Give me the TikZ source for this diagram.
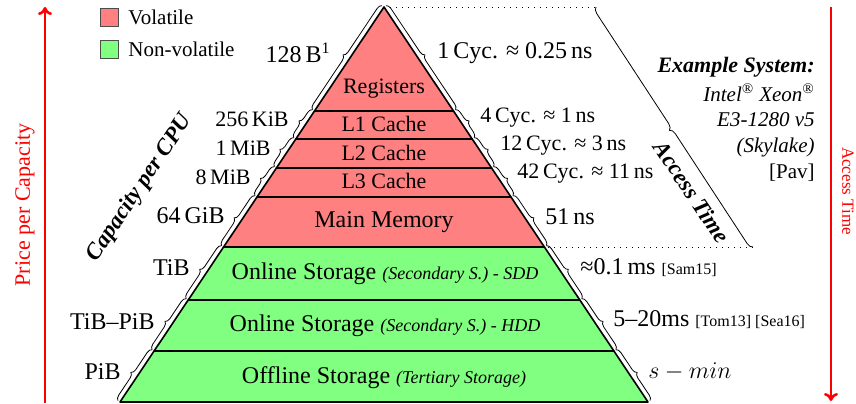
\documentclass[tikz,border=0pt]{standalone}
\usepackage{fontspec}
\setmainfont{Liberation Serif}
\usetikzlibrary{decorations.pathreplacing,arrows.meta}

\definecolor{volred}{HTML}{FF8080}
\definecolor{nvgreen}{HTML}{80FF80}
\newcommand{\reftag}[1]{{\fontsize{8}{9}\selectfont #1}}
\newcommand{\subnote}[1]{{\fontsize{9}{10}\selectfont\itshape #1}}

\begin{document}
\begin{tikzpicture}[x=0.5pt,y=-0.5pt,
  layer/.style={draw=black, line width=0.8pt, line join=round},
  volatile/.style={layer, fill=volred},
  nonvolatile/.style={layer, fill=nvgreen},
  lvltext/.style={inner sep=0pt, font=\fontsize{12}{14}\selectfont},
  cachetext/.style={inner sep=0pt, font=\fontsize{11}{13}\selectfont},
  sidebrace/.style={decorate, decoration={brace, amplitude=2.5pt, raise=1.2pt}, line width=0.4pt},
  bigbrace/.style={decorate, decoration={brace, mirror, amplitude=3pt}, line width=0.4pt},
  dotline/.style={line width=0.4pt, dash pattern=on 0.4pt off 2.6pt},
  bigtag/.style={inner sep=0pt, font=\fontsize{12}{14}\selectfont},
  smalltag/.style={inner sep=0pt, font=\fontsize{11}{13}\selectfont},
  axislabel/.style={inner sep=0pt, font=\fontsize{11.5}{13}\selectfont\bfseries\itshape},
  sysline/.style={inner sep=0pt, anchor=east, font=\fontsize{10.5}{12}\selectfont\itshape},
  redarrow/.style={red, line width=1.3pt, -{To[length=4pt,width=7pt]}},
  legbox/.style={draw=black!70, line width=0.5pt, minimum width=9pt, minimum height=9pt, inner sep=0pt},
  legtext/.style={inner sep=0pt, anchor=west, font=\fontsize{10.5}{12}\selectfont}
]
\useasboundingbox (0,0) rectangle (856,403);

% corners of the pyramid layers (left / right edge)
\coordinate (A)  at (384,7);
\coordinate (L1) at (314.5,111)  ; \coordinate (R1) at (453.5,111);
\coordinate (L2) at (295.8,139)  ; \coordinate (R2) at (472.2,139);
\coordinate (L3) at (276.4,168)  ; \coordinate (R3) at (491.6,168);
\coordinate (L4) at (257.0,197)  ; \coordinate (R4) at (511.0,197);
\coordinate (L5) at (223.6,247)  ; \coordinate (R5) at (544.4,247);
\coordinate (L6) at (188.2,300)  ; \coordinate (R6) at (579.8,300);
\coordinate (L7) at (154.1,351)  ; \coordinate (R7) at (613.9,351);
\coordinate (L8) at (120.0,402)  ; \coordinate (R8) at (648.0,402);

% layers
\path[volatile]    (A)  -- (R1) -- (L1) -- cycle;
\path[volatile]    (L1) -- (R1) -- (R2) -- (L2) -- cycle;
\path[volatile]    (L2) -- (R2) -- (R3) -- (L3) -- cycle;
\path[volatile]    (L3) -- (R3) -- (R4) -- (L4) -- cycle;
\path[volatile]    (L4) -- (R4) -- (R5) -- (L5) -- cycle;
\path[nonvolatile] (L5) -- (R5) -- (R6) -- (L6) -- cycle;
\path[nonvolatile] (L6) -- (R6) -- (R7) -- (L7) -- cycle;
\path[nonvolatile] (L7) -- (R7) -- (R8) -- (L8) -- cycle;

% layer names
\node[cachetext] (reg)  at (384,89)  {Registers};
\node[cachetext] (l1)   at (384,124) {L1 Cache};
\node[cachetext] (l2)   at (384,153) {L2 Cache};
\node[cachetext] (l3)   at (384,181) {L3 Cache};
\node[lvltext]   (mem)  at (384,222) {Main Memory};
\node[lvltext]   (ssd)  at (385,274) {Online Storage \subnote{(Secondary S.) - SDD}};
\node[lvltext]   (hdd)  at (385,326) {Online Storage \subnote{(Secondary S.) - HDD}};
\node[lvltext]   (off)  at (384,378) {Offline Storage \subnote{(Tertiary Storage)}};

% capacity braces (left edge)
\draw[sidebrace] (L1) -- (A);
\draw[sidebrace] (L2) -- (L1);
\draw[sidebrace] (L3) -- (L2);
\draw[sidebrace] (L4) -- (L3);
\draw[sidebrace] (L5) -- (L4);
\draw[sidebrace] (L6) -- (L5);
\draw[sidebrace] (L7) -- (L6);
\draw[sidebrace] (L8) -- (L7);

% access time braces (right edge)
\draw[sidebrace] (A)  -- (R1);
\draw[sidebrace] (R1) -- (R2);
\draw[sidebrace] (R2) -- (R3);
\draw[sidebrace] (R3) -- (R4);
\draw[sidebrace] (R4) -- (R5);
\draw[sidebrace] (R5) -- (R6);
\draw[sidebrace] (R6) -- (R7);
\draw[sidebrace] (R7) -- (R8);

% capacities
\node[bigtag,   anchor=east] (c0) at (331,53)  {128\,B\textsuperscript{1}};
\node[smalltag, anchor=east] (c1) at (289,119) {256\,KiB};
\node[smalltag, anchor=east] (c2) at (271,148) {1\,MiB};
\node[smalltag, anchor=east] (c3) at (251,177) {8\,MiB};
\node[bigtag,   anchor=east] (c4) at (225,216) {64\,GiB};
\node[bigtag,   anchor=east] (c5) at (190,268) {TiB};
\node[bigtag,   anchor=east] (c6) at (155,322) {TiB–PiB};
\node[bigtag,   anchor=east] (c7) at (121,372) {PiB};

% access times
\node[bigtag,   anchor=west] (t0) at (437,53)  {1\,Cyc. ≈ 0.25\,ns};
\node[smalltag, anchor=west] (t1) at (480,118) {4\,Cyc. ≈ 1\,ns};
\node[smalltag, anchor=west] (t2) at (500,146) {12\,Cyc. ≈ 3\,ns};
\node[smalltag, anchor=west] (t3) at (517,174) {42\,Cyc. ≈ 11\,ns};
\node[bigtag,   anchor=west] (t4) at (545,217) {51\,ns};
\node[bigtag,   anchor=west] (t5) at (580,268) {≈0.1\,ms \reftag{[Sam15]}};
\node[bigtag,   anchor=west] (t6) at (613,320) {5–20ms \reftag{[Tom13] [Sea16]}};
\node[bigtag,   anchor=west] (t7) at (648,372) {$s - min$};

% access time bracket
\coordinate (B1) at (596,7);
\coordinate (B2) at (753,247);
\draw[dotline] (A) -- (B1);
\draw[bigbrace] (B1) -- (B2);
\draw[dotline] (B2) -- (R5);

% rotated axis captions
\node[axislabel, rotate=56.2]  (cap) at (140,188) {Capacity per CPU};
\node[axislabel, rotate=-56.2] (acc) at (692,192) {Access Time};

% example system
\node[sysline, font=\fontsize{11}{13}\selectfont\bfseries\itshape] (sys0) at (815,67) {Example System:};
\node[sysline] (sys1) at (815,93)  {Intel\textsuperscript{®} Xeon\textsuperscript{®}};
\node[sysline] (sys2) at (815,120) {E3-1280 v5};
\node[sysline] (sys3) at (815,147) {(Skylake)};
\node[sysline, font=\fontsize{10.5}{12}\selectfont] (sys4) at (815,173) {[Pav]};

% legend
\node[legbox, fill=volred]  (kv) at (109,17) {};
\node[legbox, fill=nvgreen] (kn) at (109,49) {};
\node[legtext] (kvt) at (128,17) {Volatile};
\node[legtext] (knt) at (128,49) {Non-volatile};

% price / access time axes
\coordinate (P0) at (45,403);
\coordinate (P1) at (45,7);
\draw[redarrow] (P0) -- (P1);
\node[red, inner sep=0pt, rotate=90, font=\fontsize{11}{13}\selectfont] (price) at (25,205) {Price per Capacity};
\coordinate (Q0) at (831,7);
\coordinate (Q1) at (831,401);
\draw[redarrow] (Q0) -- (Q1);
\node[red, inner sep=0pt, rotate=-90, font=\fontsize{8.5}{10}\selectfont] (atime) at (848,191) {Access Time};
\end{tikzpicture}
\end{document}
